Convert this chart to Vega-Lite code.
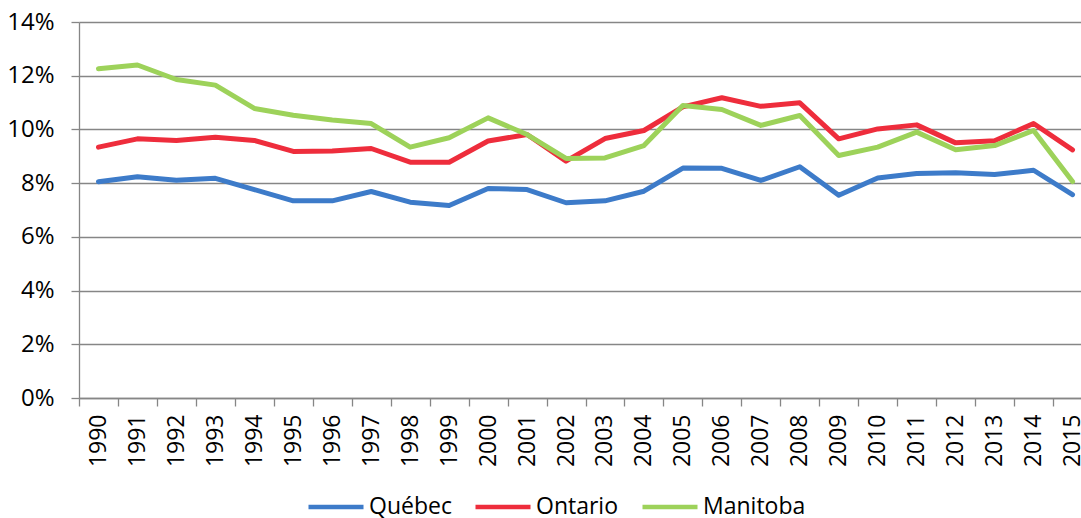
{
  "$schema": "https://vega.github.io/schema/vega-lite/v6.json",
  "autosize": {"type": "none"},
  "width": 1002,
  "height": 376,
  "padding": {"left": 79, "top": 22, "right": 0, "bottom": 120},
  "background": "white",
  "config": {
    "view": {"stroke": null},
    "font": "Open Sans"
  },
  "data": {
    "values": [
      {"year": "1990", "province": "Québec", "rate": 0.0805},
      {"year": "1991", "province": "Québec", "rate": 0.0824},
      {"year": "1992", "province": "Québec", "rate": 0.0811},
      {"year": "1993", "province": "Québec", "rate": 0.0818},
      {"year": "1994", "province": "Québec", "rate": 0.0776},
      {"year": "1995", "province": "Québec", "rate": 0.0734},
      {"year": "1996", "province": "Québec", "rate": 0.0734},
      {"year": "1997", "province": "Québec", "rate": 0.0769},
      {"year": "1998", "province": "Québec", "rate": 0.0729},
      {"year": "1999", "province": "Québec", "rate": 0.0717},
      {"year": "2000", "province": "Québec", "rate": 0.0780},
      {"year": "2001", "province": "Québec", "rate": 0.0776},
      {"year": "2002", "province": "Québec", "rate": 0.0727},
      {"year": "2003", "province": "Québec", "rate": 0.0734},
      {"year": "2004", "province": "Québec", "rate": 0.0770},
      {"year": "2005", "province": "Québec", "rate": 0.0856},
      {"year": "2006", "province": "Québec", "rate": 0.0855},
      {"year": "2007", "province": "Québec", "rate": 0.0810},
      {"year": "2008", "province": "Québec", "rate": 0.0861},
      {"year": "2009", "province": "Québec", "rate": 0.0755},
      {"year": "2010", "province": "Québec", "rate": 0.0819},
      {"year": "2011", "province": "Québec", "rate": 0.0836},
      {"year": "2012", "province": "Québec", "rate": 0.0839},
      {"year": "2013", "province": "Québec", "rate": 0.0832},
      {"year": "2014", "province": "Québec", "rate": 0.0848},
      {"year": "2015", "province": "Québec", "rate": 0.0757},
      {"year": "1990", "province": "Ontario", "rate": 0.0934},
      {"year": "1991", "province": "Ontario", "rate": 0.0965},
      {"year": "1992", "province": "Ontario", "rate": 0.0959},
      {"year": "1993", "province": "Ontario", "rate": 0.0971},
      {"year": "1994", "province": "Ontario", "rate": 0.0959},
      {"year": "1995", "province": "Ontario", "rate": 0.0918},
      {"year": "1996", "province": "Ontario", "rate": 0.0920},
      {"year": "1997", "province": "Ontario", "rate": 0.0929},
      {"year": "1998", "province": "Ontario", "rate": 0.0878},
      {"year": "1999", "province": "Ontario", "rate": 0.0878},
      {"year": "2000", "province": "Ontario", "rate": 0.0957},
      {"year": "2001", "province": "Ontario", "rate": 0.0981},
      {"year": "2002", "province": "Ontario", "rate": 0.0882},
      {"year": "2003", "province": "Ontario", "rate": 0.0966},
      {"year": "2004", "province": "Ontario", "rate": 0.0996},
      {"year": "2005", "province": "Ontario", "rate": 0.1084},
      {"year": "2006", "province": "Ontario", "rate": 0.1118},
      {"year": "2007", "province": "Ontario", "rate": 0.1086},
      {"year": "2008", "province": "Ontario", "rate": 0.1099},
      {"year": "2009", "province": "Ontario", "rate": 0.0965},
      {"year": "2010", "province": "Ontario", "rate": 0.1002},
      {"year": "2011", "province": "Ontario", "rate": 0.1017},
      {"year": "2012", "province": "Ontario", "rate": 0.0950},
      {"year": "2013", "province": "Ontario", "rate": 0.0958},
      {"year": "2014", "province": "Ontario", "rate": 0.1022},
      {"year": "2015", "province": "Ontario", "rate": 0.0924},
      {"year": "1990", "province": "Manitoba", "rate": 0.1226},
      {"year": "1991", "province": "Manitoba", "rate": 0.1240},
      {"year": "1992", "province": "Manitoba", "rate": 0.1186},
      {"year": "1993", "province": "Manitoba", "rate": 0.1165},
      {"year": "1994", "province": "Manitoba", "rate": 0.1078},
      {"year": "1995", "province": "Manitoba", "rate": 0.1053},
      {"year": "1996", "province": "Manitoba", "rate": 0.1035},
      {"year": "1997", "province": "Manitoba", "rate": 0.1022},
      {"year": "1998", "province": "Manitoba", "rate": 0.0934},
      {"year": "1999", "province": "Manitoba", "rate": 0.0969},
      {"year": "2000", "province": "Manitoba", "rate": 0.1043},
      {"year": "2001", "province": "Manitoba", "rate": 0.0981},
      {"year": "2002", "province": "Manitoba", "rate": 0.0892},
      {"year": "2003", "province": "Manitoba", "rate": 0.0894},
      {"year": "2004", "province": "Manitoba", "rate": 0.0940},
      {"year": "2005", "province": "Manitoba", "rate": 0.1089},
      {"year": "2006", "province": "Manitoba", "rate": 0.1074},
      {"year": "2007", "province": "Manitoba", "rate": 0.1015},
      {"year": "2008", "province": "Manitoba", "rate": 0.1052},
      {"year": "2009", "province": "Manitoba", "rate": 0.0903},
      {"year": "2010", "province": "Manitoba", "rate": 0.0934},
      {"year": "2011", "province": "Manitoba", "rate": 0.0990},
      {"year": "2012", "province": "Manitoba", "rate": 0.0924},
      {"year": "2013", "province": "Manitoba", "rate": 0.0940},
      {"year": "2014", "province": "Manitoba", "rate": 0.0996},
      {"year": "2015", "province": "Manitoba", "rate": 0.0806}
    ]
  },
  "mark": {"type": "line", "strokeWidth": 5, "strokeCap": "round", "strokeJoin": "round", "clip": false},
  "encoding": {
    "x": {
      "field": "year",
      "type": "ordinal",
      "bandPosition": 0.5,
      "scale": {"type": "band", "paddingInner": 0, "paddingOuter": 0, "range": [0, 1013]},
      "axis": {
        "title": null,
        "labelAngle": -90,
        "labelFont": "Open Sans",
        "labelFontSize": 23,
        "labelColor": "#000000",
        "labelPadding": 8,
        "tickBand": "extent",
        "tickSize": 8,
        "tickColor": "#868686",
        "tickWidth": 1.3,
        "domainColor": "#868686",
        "domainWidth": 1.3,
        "grid": false
      }
    },
    "y": {
      "field": "rate",
      "type": "quantitative",
      "scale": {"domain": [0, 0.14], "nice": false},
      "axis": {
        "title": null,
        "values": [0, 0.02, 0.04, 0.06, 0.08, 0.1, 0.12, 0.14],
        "format": ".0%",
        "labelFont": "Open Sans",
        "labelFontSize": 24,
        "labelColor": "#000000",
        "labelPadding": 17,
        "tickSize": 8,
        "tickColor": "#868686",
        "tickWidth": 1.3,
        "domainColor": "#868686",
        "domainWidth": 1.3,
        "grid": true,
        "gridColor": "#868686",
        "gridWidth": 1.3
      }
    },
    "color": {
      "field": "province",
      "type": "nominal",
      "sort": ["Québec", "Ontario", "Manitoba"],
      "scale": {"domain": ["Québec", "Ontario", "Manitoba"], "range": ["#3D7BC9", "#EE2D3C", "#9DD25A"]},
      "legend": {
        "title": null,
        "orient": "none",
        "legendX": 227,
        "legendY": 455,
        "direction": "horizontal",
        "symbolType": "stroke",
        "symbolSize": 3025,
        "symbolStrokeWidth": 4.5,
        "labelFont": "Open Sans",
        "labelFontSize": 23,
        "labelColor": "#000000",
        "labelOffset": 3,
        "columnPadding": 14
      }
    }
  }
}
